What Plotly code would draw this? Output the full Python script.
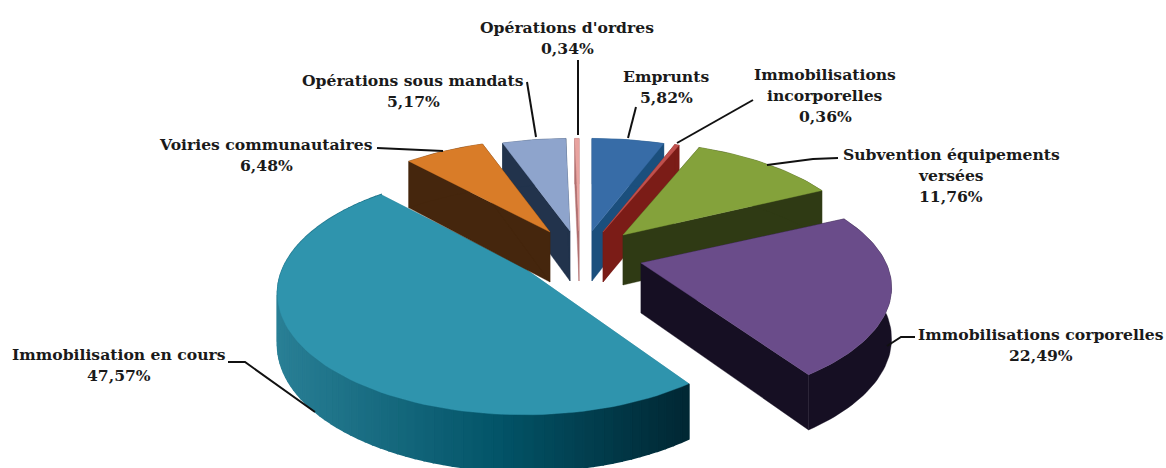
import numpy as np
import plotly.graph_objects as go

# Data
categories = ["Emprunts", "Immobilisations incorporelles", "Subvention équipements versées",
              "Immobilisations corporelles", "Immobilisation en cours",
              "Voiries communautaires", "Opérations sous mandats", "Opérations d'ordres"]
values = [5.82, 0.36, 11.76, 22.49, 47.57, 6.48, 5.17, 0.34]

# Styles
top_colors = ["#376ca7", "#c0504d", "#84a23b", "#6a4c8a", "#2f94ad", "#d97c28", "#8ea4cc", "#e8a3a0"]
wall_colors = ["#1b4f7d", "#7b1c17", "#2f3a14", "#160f23", "#2a8096", "#45260d", "#22334c", "#b07070"]
apex_x = [592, 603, 623, 641, 524, 550, 570, 579]
apex_y = [231, 232, 235, 263, 268, 232, 231, 231]
radius_x = [240, 240, 240, 245, 241, 238, 238, 240]
radius_y = [112, 112, 113, 112, 116, 112, 112, 112]
paint_order = [7, 6, 4, 5, 0, 1, 2, 3]
P, H = 0.21, 50
GRAD_SLICE = 4
GRAD_LEFT, GRAD_MID, GRAD_RIGHT = (42, 128, 150), (3, 84, 104), (1, 40, 52)

label_lines = [
    (["Emprunts"], 666, 76),
    (["Immobilisations", "incorporelles"], 825, 74),
    (["Subvention équipements", "versées"], 951, 154),
    (["Immobilisations corporelles"], 1041, 334),
    (["Immobilisation en cours"], 119, 354),
    (["Voiries communautaires"], 266, 144),
    (["Opérations sous mandats"], 413, 80),
    (["Opérations d'ordres"], 567, 27),
]
LINE_GAP = 21
leaders = [
    [(636, 107), (628, 138)],
    [(753, 100), (677, 143)],
    [(838, 158), (813, 159), (767, 165)],
    [(915, 337), (901, 337), (887, 346)],
    [(228, 362), (245, 362), (315, 412)],
    [(377, 148), (443, 151)],
    [(527, 82), (536, 137)],
    [(578, 60), (578, 135)],
]

fracs = np.array(values) / sum(values) * 2 * np.pi
ends = np.cumsum(fracs)
starts = ends - fracs


def project(i, theta, r=1.0):
    X, Y = r * np.sin(theta), r * np.cos(theta)
    s = 1 / (1 + P * Y)
    return apex_x[i] + radius_x[i] * X * s, apex_y[i] - radius_y[i] * Y * s, H * (1 + (s - 1) * 0.5)


def poly(fig, xs, ys, color, edge=0.4):
    fig.add_trace(go.Scatter(x=list(xs) + [xs[0]], y=list(ys) + [ys[0]], mode="lines", fill="toself",
                             fillcolor=color, line=dict(color=color, width=edge),
                             hoverinfo="skip", showlegend=False))


def mix(t):
    a, b, u = (GRAD_LEFT, GRAD_MID, t / 0.55) if t < 0.55 else (GRAD_MID, GRAD_RIGHT, (t - 0.55) / 0.45)
    return "rgb(%d,%d,%d)" % tuple(a[k] + (b[k] - a[k]) * u for k in range(3))


fig = go.Figure()
for i in paint_order:
    th = np.linspace(starts[i], ends[i], max(4, int(fracs[i] * 40)))
    rx, ry, rh = project(i, th)
    ax, ay = apex_x[i], apex_y[i]
    wall = wall_colors[i]
    # radial walls
    for k in (0, -1):
        poly(fig, [ax, rx[k], rx[k], ax], [ay, ry[k], ry[k] + rh[k], ay + H], wall)
    # rim wall
    if i == GRAD_SLICE:
        th = np.linspace(starts[i], ends[i], 90)
        rx, ry, rh = project(i, th)
        lo, hi = rx.min(), rx.max()
        for k in range(len(th) - 1):
            t = (rx[k] - lo) / (hi - lo)
            poly(fig, [rx[k], rx[k + 1], rx[k + 1], rx[k]],
                 [ry[k], ry[k + 1], ry[k + 1] + rh[k + 1], ry[k] + rh[k]], mix(t), edge=1.6)
    else:
        poly(fig, list(rx) + list(rx[::-1]), list(ry) + list((ry + rh)[::-1]), wall)
    # top face
    poly(fig, [ax] + list(rx), [ay] + list(ry), top_colors[i])

for pts in leaders:
    fig.add_trace(go.Scatter(x=[p[0] for p in pts], y=[p[1] for p in pts], mode="lines",
                             line=dict(color="#111111", width=2), hoverinfo="skip", showlegend=False))

for (lines, x, y), v in zip(label_lines, values):
    pct = f"{v:.2f}".replace(".", ",") + "%"
    for n, txt in enumerate(lines + [pct]):
        fig.add_annotation(x=x, y=y + n * LINE_GAP, text=f"<b>{txt}</b>", showarrow=False,
                           xanchor="center", yanchor="middle",
                           font=dict(family="DejaVu Serif", size=15.6, color="#1a1a1a"))

fig.update_layout(width=1166, height=468, margin=dict(l=0, r=0, t=0, b=0),
                  paper_bgcolor="white", plot_bgcolor="white", showlegend=False,
                  xaxis=dict(range=[0, 1166], visible=False, fixedrange=True),
                  yaxis=dict(range=[468, 0], visible=False, fixedrange=True))
fig.write_html("out.html", config={"displayModeBar": False},
               post_script="document.body.style.margin='0';document.body.style.overflow='hidden';")
